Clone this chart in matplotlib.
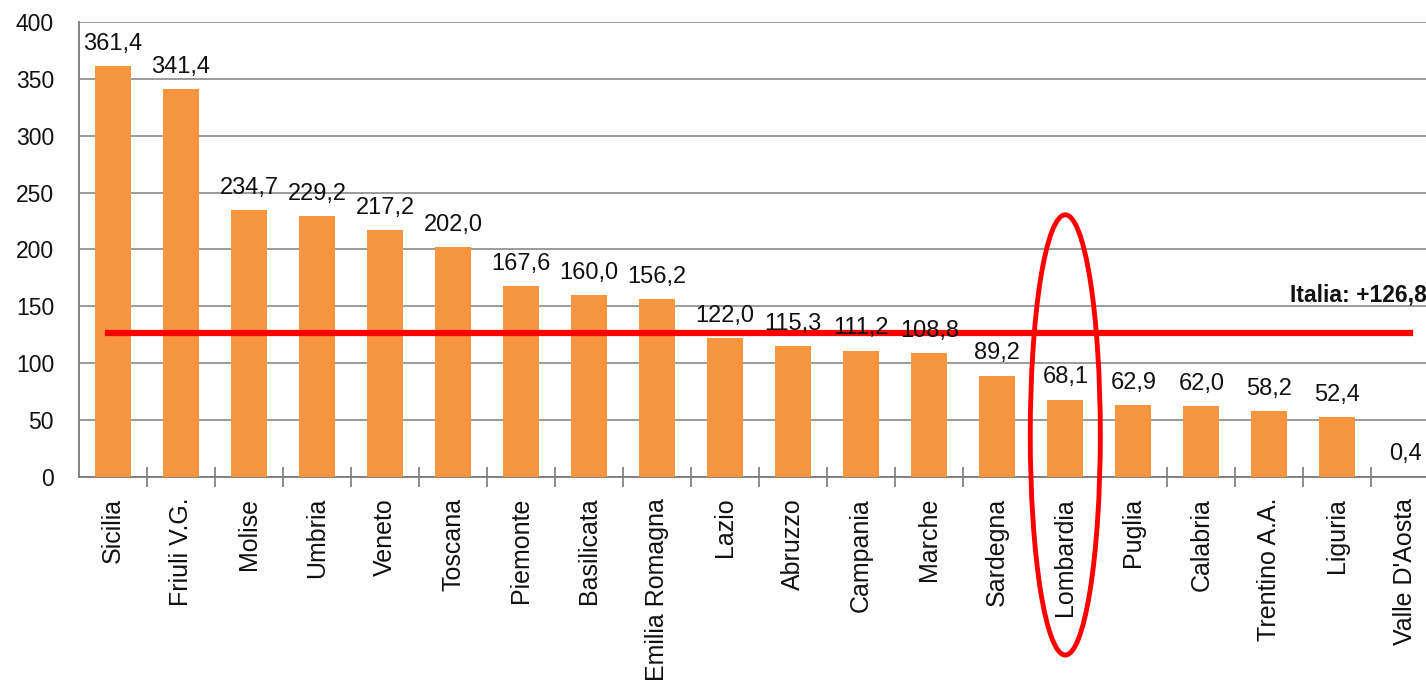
import matplotlib.pyplot as plt
from matplotlib.patches import Ellipse

regioni = ["Sicilia", "Friuli V.G.", "Molise", "Umbria", "Veneto", "Toscana",
           "Piemonte", "Basilicata", "Emilia Romagna", "Lazio", "Abruzzo",
           "Campania", "Marche", "Sardegna", "Lombardia", "Puglia", "Calabria",
           "Trentino A.A.", "Liguria", "Valle D'Aosta"]
valori = [361.4, 341.4, 234.7, 229.2, 217.2, 202.0, 167.6, 160.0, 156.2, 122.0,
          115.3, 111.2, 108.8, 89.2, 68.1, 62.9, 62.0, 58.2, 52.4, 0.4]
italia = 126.8
evidenziata = "Lombardia"

plt.rcParams['font.family'] = ['Liberation Sans', 'DejaVu Sans']

fig = plt.figure(figsize=(14.26, 6.83), dpi=100, facecolor='white')
ax = fig.add_axes([0.0554, 0.3016, 0.954, 0.6662])

x = list(range(len(regioni)))
ax.bar(x, valori, width=0.53, color='#F7963F', zorder=3)
ax.set_xlim(-0.5, len(regioni) - 0.5)
ax.set_ylim(0, 400)
ax.set_yticks(range(0, 401, 50))
ax.grid(axis='y', color='#8a8a8a', linewidth=1.2, zorder=0)

for s in ['top', 'right']:
    ax.spines[s].set_visible(False)
for s in ['left', 'bottom']:
    ax.spines[s].set_color('#7a7a7a')
    ax.spines[s].set_linewidth(1.3)

ax.tick_params(axis='y', length=0, labelsize=16.5, pad=18, labelcolor='#111111')
ax.set_xticks(x)
ax.set_xticklabels(regioni, rotation=90, fontsize=18, va='top', ha='center',
                   color='#111111')
ax.tick_params(axis='x', length=0, pad=15)
ax.set_xticks([i + 0.5 for i in x[:-1]], minor=True)
ax.tick_params(axis='x', which='minor', direction='inout', length=15,
               width=1.2, color='#7a7a7a')

for xi, v in zip(x, valori):
    ax.annotate(f"{v:.1f}".replace('.', ','), (xi, v), xytext=(0, 8),
                textcoords='offset points', ha='center', va='bottom',
                fontsize=17, color='#111111', zorder=5)

ax.plot([-0.07, 19.07], [italia, italia], color='#FF0000', linewidth=4.5,
        zorder=4, clip_on=False)
ax.text(17.3, 160, f"Italia: +{italia:.1f}".replace('.', ','),
        fontsize=16.5, fontweight='bold', color='#111111', va='center',
        ha='left', clip_on=False)

i = regioni.index(evidenziata)
ax.add_patch(Ellipse((i, 37), 1.03, 387, fill=False, edgecolor='#FF0000',
                     linewidth=3.5, clip_on=False, zorder=6))

fig.savefig("out.png", dpi=100, facecolor=fig.get_facecolor())
